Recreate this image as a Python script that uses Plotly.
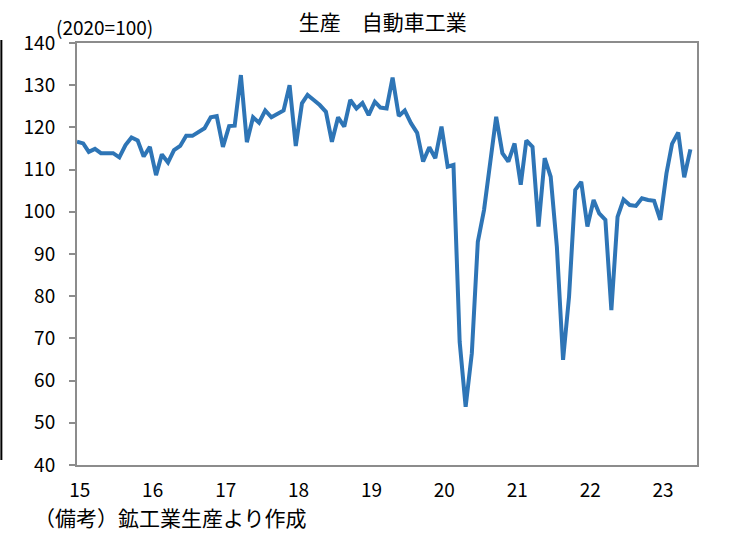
import plotly.graph_objs as go
import pandas as pd

# monthly index, 2015-01 .. 2023-06
months = pd.date_range("2015-01-01", periods=102, freq="MS")
production = [
    116.6, 116.2, 114.2, 114.9, 113.9, 113.9, 113.9, 112.9, 115.8, 117.6, 116.9, 113.1,
    115.4, 108.7, 113.6, 111.7, 114.6, 115.6, 118.0, 118.0, 119.0, 119.8, 122.4, 122.7,
    115.4, 120.3, 120.4, 132.4, 116.5, 122.4, 121.1, 124.0, 122.4, 123.3, 124.0, 130.0,
    115.6, 125.7, 127.7, 126.5, 125.3, 123.7, 116.6, 122.4, 120.2, 126.5, 124.5, 125.8,
    122.9, 126.1, 124.7, 124.5, 131.8, 122.7, 124.0, 121.0, 118.7, 111.9, 115.3, 112.7,
    120.2, 110.7, 111.1, 69.2, 53.8, 66.5, 92.9, 100.4, 111.9, 122.5, 113.9, 111.9,
    116.2, 106.4, 116.9, 115.4, 96.5, 112.7, 108.3, 91.7, 64.9, 79.9, 105.2, 107.1,
    96.5, 102.8, 99.6, 98.1, 76.7, 98.8, 102.9, 101.6, 101.4, 103.2, 102.8, 102.6,
    98.1, 109.1, 116.1, 118.8, 108.2, 114.8,
]
# year labels sit just right of each January
year_ticks = pd.date_range("2015-01-01", periods=9, freq="YS") + pd.Timedelta(days=14)
year_labels = ["15", "16", "17", "18", "19", "20", "21", "22", "23"]

jp_font = "Noto Sans CJK JP, sans-serif"
frame = "#8c8c8c"

fig = go.Figure()
fig.add_trace(
    go.Scatter(
        x=months,
        y=production,
        mode="lines",
        line=dict(color="#2E75B6", width=4),
        showlegend=False,
    )
)

fig.update_layout(
    width=736,
    height=542,
    plot_bgcolor="white",
    paper_bgcolor="white",
    margin=dict(l=77, r=39, t=43, b=77),
    font=dict(family=jp_font, color="black"),
    title=dict(
        text="生産　自動車工業",
        x=0.52,
        xanchor="center",
        y=0.958,
        yanchor="middle",
        font=dict(family=jp_font, size=21, color="black"),
    ),
)

fig.update_xaxes(
    range=[pd.Timestamp("2015-01-01"), pd.Timestamp("2023-07-04")],
    tickvals=year_ticks,
    ticktext=year_labels,
    showgrid=False,
    zeroline=False,
    showline=True,
    mirror=True,
    linecolor=frame,
    linewidth=2,
    ticks="",
    ticklabelstandoff=7,
    tickfont=dict(family=jp_font, size=19, color="black"),
)
fig.update_yaxes(
    range=[40, 140],
    dtick=10,
    showgrid=False,
    zeroline=False,
    showline=True,
    mirror=True,
    linecolor=frame,
    linewidth=2,
    ticks="outside",
    ticklen=6,
    tickwidth=1.5,
    tickcolor=frame,
    ticklabelstandoff=10,
    tickfont=dict(family=jp_font, size=19, color="black"),
)

fig.add_annotation(
    text="(2020=100)", xref="paper", yref="paper",
    x=-0.037, y=1.0, xanchor="left", yanchor="bottom", yshift=1,
    showarrow=False, font=dict(family=jp_font, size=19, color="black"),
)
fig.add_annotation(
    text="（備考）鉱工業生産より作成", xref="paper", yref="paper",
    x=-0.073, y=-0.083, xanchor="left", yanchor="top",
    showarrow=False, font=dict(family=jp_font, size=21, color="black"),
)
# stray border line at the far left of the image
fig.add_shape(
    type="line", xref="paper", yref="paper",
    x0=-0.122, x1=-0.122, y0=0.012, y1=1.007,
    line=dict(color="black", width=2),
)

# drop the default page margin so the figure sits at the window origin
fig.write_html(
    "out.html",
    config={"displayModeBar": False},
    post_script="document.body.style.margin='0';",
)
